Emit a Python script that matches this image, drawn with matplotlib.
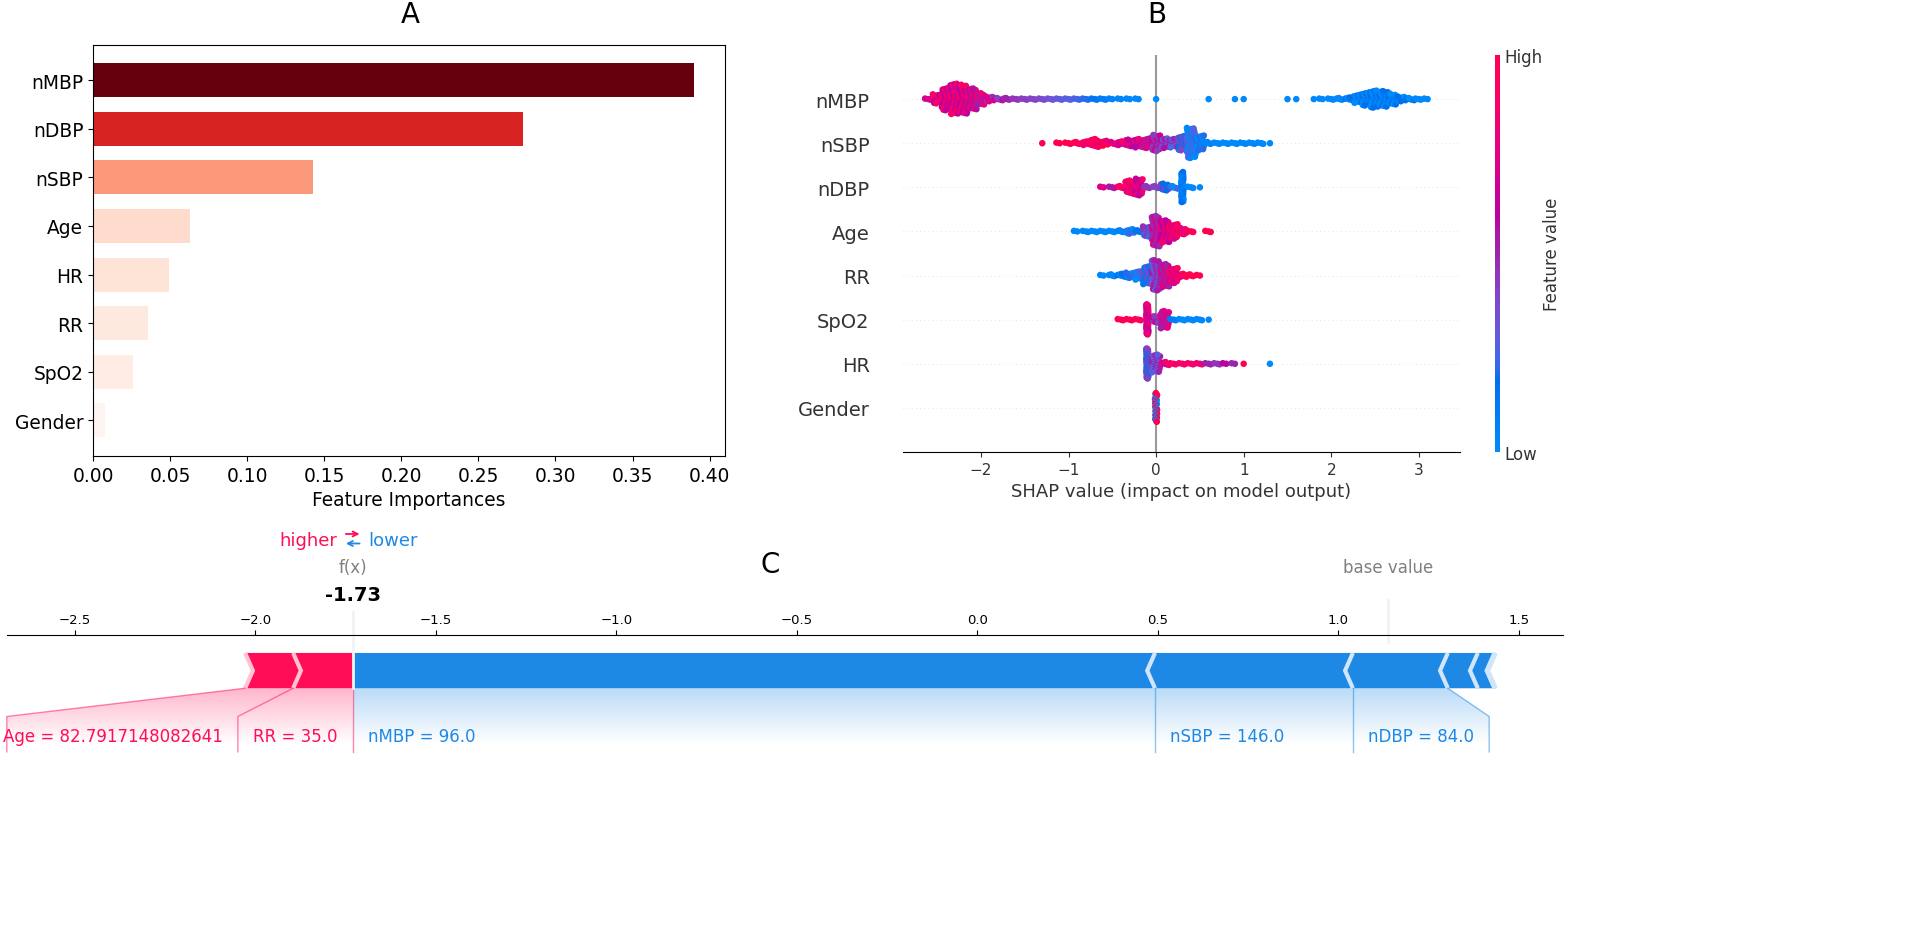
import numpy as np
import matplotlib
matplotlib.use('Agg')
import matplotlib.pyplot as plt
from matplotlib.colors import LinearSegmentedColormap, Normalize
from matplotlib.cm import ScalarMappable
from matplotlib.path import Path
from matplotlib.patches import PathPatch, Polygon
from matplotlib import lines

# ---------------- data: panel A ----------------
imp_features = ['nMBP', 'nDBP', 'nSBP', 'Age', 'HR', 'RR', 'SpO2', 'Gender']
imp_values = [0.390, 0.279, 0.143, 0.063, 0.049, 0.036, 0.026, 0.008]

# ---------------- data: panel B (binned SHAP histograms, bin width 0.1) ----------------
swarm_features = ['nMBP', 'nSBP', 'nDBP', 'Age', 'RR', 'SpO2', 'HR', 'Gender']
swarm_start = [-2.6, -1.3, -0.6, -0.9, -0.6, -0.4, -0.1, 0.0]

nMBP_counts = [3, 18, 43, 58, 55, 40, 23, 10, 5, 4, 3, 3, 3, 3, 3, 3, 3, 3, 3, 3, 3, 2, 2, 2, 2, 0, 1,
               0, 0, 0, 0, 0, 1, 0, 0, 1, 1, 0, 0, 0, 0, 1, 1, 0, 1, 2, 3, 4, 6, 16, 26, 33, 30, 21, 10, 5, 3, 2]
nMBP_colors = [.7, .75, .76, .76, .76, .72, .68, .6, .55, .5, .45, .42, .4, .37, .34, .3, .27, .24, .2, .15,
               .1, .06, .04, .03, .02, 0, .02, 0, 0, 0, 0, 0, .02, 0, 0, .02, .02, 0, 0, 0, 0, .02, .02, 0,
               .02, .02, .02, .02, .02, .02, .02, .02, .02, .02, .02, .02, .02, .02]
nSBP_counts = [1, 0, 2, 3, 4, 7, 14, 9, 5, 7, 12, 15, 17, 28, 17, 15, 26, 52, 26, 4, 3, 3, 3, 3, 3, 3, 1]
nSBP_colors = [1, 1, 1, 1, .97, .95, .93, .9, .85, .8, .75, .7, .65, .55, .45, .38, .28, .15, .08, .05,
               .02, .02, .02, .02, .02, .02, .02]
nDBP_counts = [2, 3, 4, 22, 28, 4, 4, 12, 5, 50, 3, 1]
nDBP_colors = [.75, .55, .9, .85, .75, .45, .4, .3, .12, .05, .03, .02]
Age_counts = [2, 3, 3, 3, 3, 4, 9, 4, 19, 56, 41, 27, 12, 3, 0, 3]
Age_colors = [.02, .02, .02, .02, .02, .05, .1, .15, .35, .6, .72, .85, .92, .97, 1, 1]
RR_counts = [2, 4, 6, 10, 15, 32, 54, 41, 27, 7, 4, 2]
RR_colors = [.02, .03, .05, .08, .12, .25, .42, .62, .82, .93, .98, 1]
SpO2_counts = [3, 3, 3, 54, 12, 31, 3, 3, 3, 3, 1]
SpO2_colors = [1, 1, .95, .72, .55, .65, .1, .02, .02, .02, .02]
HR_counts = [54, 32, 6, 3, 3, 3, 3, 3, 3, 2, 2, 1, 0, 0, 1]
HR_colors = [.3, .4, .75, .9, .9, .88, .85, .5, .45, .6, .5, 1, 0, 0, 0]
Gender_counts = [30]
Gender_colors = [0.5]

swarm_counts = [nMBP_counts, nSBP_counts, nDBP_counts, Age_counts, RR_counts, SpO2_counts, HR_counts, Gender_counts]
swarm_colors = [nMBP_colors, nSBP_colors, nDBP_colors, Age_colors, RR_colors, SpO2_colors, HR_colors, Gender_colors]
swarm_mix = [0.15, 0.12, 0.12, 0.12, 0.12, 0.12, 0.12, 0.5]
# bins where points are concentrated on (almost) a single SHAP value
swarm_tight = [[], [], [0.3], [], [], [-0.1], [-0.1], [0.0]]

# ---------------- data: panel C (force plot) ----------------
force_names = ['Age', 'RR', 'nMBP', 'nSBP', 'nDBP', 'HR', 'SpO2', 'Gender']
force_values = ['82.7917148082641', '35.0', '96.0', '146.0', '84.0', '', '', '']
force_shap = [0.133, 0.165, -2.222, -0.548, -0.263, -0.083, -0.046, -0.004]
base_value = 1.138
force_xlim = (-2.688, 1.622)

# ---------------- figure ----------------
W, H = 1928, 929
fig = plt.figure(figsize=(W / 100, H / 100), dpi=100)


def fbox(x0, y0, x1, y1):
    return [x0 / W, 1 - y1 / H, (x1 - x0) / W, (y1 - y0) / H]


# ================= Panel A =================
axA = fig.add_axes(fbox(93, 45.5, 725, 457))
vals = np.array(imp_values)
norm = (vals - vals.min()) / (vals.max() - vals.min())
colsA = plt.get_cmap('Reds')(norm)
axA.barh(np.arange(len(imp_features)), vals, height=0.7, color=colsA)
axA.set_yticks(np.arange(len(imp_features)))
axA.set_yticklabels(imp_features)
axA.invert_yaxis()
axA.set_xlim(0, 0.41)
axA.set_xticks(np.arange(0, 0.401, 0.05))
axA.set_xticklabels(['%.2f' % v for v in np.arange(0, 0.401, 0.05)])
axA.tick_params(labelsize=13.4)
axA.set_xlabel('Feature Importances', fontsize=13.4)

fig.text(410 / W, 1 - 15 / H, 'A', fontsize=20, ha='center', va='center')
fig.text(1157 / W, 1 - 15 / H, 'B', fontsize=20, ha='center', va='center')
fig.text(770 / W, 1 - 565 / H, 'C', fontsize=20, ha='center', va='center')

# ================= Panel B =================
# shap red_blue colormap (Lch interpolation)
def lch2rgb(l, c, h):
    a = c * np.cos(h)
    b = c * np.sin(h)
    fy = (l + 16) / 116.
    fx = fy + a / 500.
    fz = fy - b / 200.

    def finv(t):
        return t ** 3 if t > 6 / 29 else 3 * (6 / 29) ** 2 * (t - 4 / 29)
    X = 0.95047 * finv(fx)
    Y = finv(fy)
    Z = 1.08883 * finv(fz)
    r = 3.2404542 * X - 1.5371385 * Y - 0.4985314 * Z
    g = -0.9692660 * X + 1.8760108 * Y + 0.0415560 * Z
    bl = 0.0556434 * X - 0.2040259 * Y + 1.0572252 * Z
    out = []
    for v in (r, g, bl):
        v = 1.055 * v ** (1 / 2.4) - 0.055 if v > 0.0031308 else 12.92 * v
        out.append(min(max(v, 0.0), 1.0))
    return out


nsteps = 100
l_vals = list(np.linspace(54., 40., nsteps // 2)) + list(np.linspace(40., 54., nsteps // 2))
c_vals = np.linspace(70., 90., nsteps)
h_vals = np.linspace(4.6588, 0.35470565 + 2 * np.pi, nsteps)
rb_colors = [lch2rgb(l, c, h) for l, c, h in zip(l_vals, c_vals, h_vals)]
red_blue = LinearSegmentedColormap.from_list('red_blue', rb_colors)

axB = fig.add_axes(fbox(903, 56, 1460, 453))
nrow = len(swarm_features)
golden = 0.6180339887
for r in range(nrow):
    ypos = nrow - 1 - r
    axB.axhline(y=ypos, color='#cccccc', lw=0.5, dashes=(1, 5), zorder=-1)
    xs, ys, cs = [], [], []
    for i, (n, cv) in enumerate(zip(swarm_counts[r], swarm_colors[r])):
        center = swarm_start[r] + 0.1 * i
        spread = 0.1
        for tb in swarm_tight[r]:
            if abs(center - tb) < 1e-6:
                spread = 0.025
        m = swarm_mix[r] if n >= 5 else 0.0
        for k in range(n):
            xs.append(center + (((k * golden) + 0.5) % 1.0 - 0.5) * spread)
            ys.append(np.ceil(k / 2) * ((k % 2) * 2 - 1))
            cs.append(float(np.clip(cv + m * (1 if (k // 2) % 2 == 0 else -1), 0, 1)))
    ys = np.array(ys, dtype=float)
    ys *= 0.9 * (0.4 / (ys.max() + 1))
    axB.scatter(xs, ypos + ys, c=cs, cmap=red_blue, vmin=0, vmax=1, s=22,
                linewidth=0, zorder=3, rasterized=True)
axB.axvline(x=0, color='#999999', zorder=-1)
axB.set_xlim(-2.89, 3.47)
axB.set_ylim(-1, nrow)
axB.set_yticks(np.arange(nrow))
axB.set_yticklabels(swarm_features[::-1])
for s in ['left', 'right', 'top']:
    axB.spines[s].set_visible(False)
axB.tick_params(axis='y', length=0, pad=24, labelsize=14, labelcolor='#333333')
axB.tick_params(axis='x', labelsize=11, color='#333333', labelcolor='#333333')
axB.set_xticks([-2, -1, 0, 1, 2, 3])
axB.set_xlabel('SHAP value (impact on model output)', fontsize=13, color='#333333')

cax = fig.add_axes(fbox(1495, 56, 1500, 453))
sm = ScalarMappable(norm=Normalize(0, 1), cmap=red_blue)
cb = fig.colorbar(sm, cax=cax, ticks=[0, 1])
cb.set_ticklabels(['Low', 'High'])
cb.ax.tick_params(labelsize=12, length=0, labelcolor='#333333')
cb.set_label('Feature value', size=12, labelpad=0, color='#333333')
cb.outline.set_visible(False)

# ================= Panel C (force plot) =================
axC = fig.add_axes(fbox(6.8, 636.3, 1563, 865.8))
axC.set_ylim(-0.5, 0.15)
axC.set_xlim(*force_xlim)
axC.tick_params(top=True, bottom=False, left=False, right=False, labelleft=False,
                labeltop=True, labelbottom=False, labelsize=9.5)
axC.set_xticks(np.arange(-2.5, 1.51, 0.5))
for k, s in axC.spines.items():
    if k != 'top':
        s.set_visible(False)

out_value = base_value + sum(force_shap)
pos = sorted([(v, n, t) for v, n, t in zip(force_shap, force_names, force_values) if v > 0], key=lambda z: -abs(z[0]))
neg = sorted([(v, n, t) for v, n, t in zip(force_shap, force_names, force_values) if v < 0], key=lambda z: -abs(z[0]))
total_effect = sum(abs(v) for v in force_shap)
width_bar = 0.1
width_sep = (force_xlim[1] - force_xlim[0]) / 200.
offset_text = 0.042
min_perc = 0.03


def draw_bars(feats, ftype):
    pre = out_value
    for idx, (eff, name, txt) in enumerate(feats):
        if ftype == 'positive':
            left = pre - abs(eff)
            right = pre
            pre = left
            indent = abs(width_sep)
            colors = ['#FF0D57', '#FFC3D5']
        else:
            left = pre
            right = pre + abs(eff)
            pre = right
            indent = -abs(width_sep)
            colors = ['#1E88E5', '#D1E6FA']
        if idx == 0:
            if ftype == 'positive':
                pts = [[left, 0], [right, 0], [right, width_bar], [left, width_bar],
                       [left + indent, width_bar / 2]]
            else:
                pts = [[right, 0], [left, 0], [left, width_bar], [right, width_bar],
                       [right + indent, width_bar / 2]]
        else:
            pts = [[left, 0], [right, 0], [right + indent * 0.9, width_bar / 2], [right, width_bar],
                   [left, width_bar], [left + indent * 0.9, width_bar / 2]]
        axC.add_patch(Polygon(pts, closed=True, fill=True, facecolor=colors[0], linewidth=0))


def draw_separators(feats, ftype):
    pre = out_value
    for idx, (eff, name, txt) in enumerate(feats):
        if ftype == 'positive':
            sep_pos = pre - abs(eff)
            pre = sep_pos
            indent = abs(width_sep)
            col = '#FFC3D5'
        else:
            sep_pos = pre + abs(eff)
            pre = sep_pos
            indent = -abs(width_sep)
            col = '#D1E6FA'
        pts = [[sep_pos, 0], [sep_pos + indent, width_bar / 2], [sep_pos, width_bar]]
        axC.add_patch(Polygon(pts, closed=False, fill=False, edgecolor=col, lw=3))


draw_bars(neg, 'negative')
draw_bars(pos, 'positive')
draw_separators(neg, 'negative')
draw_separators(pos, 'positive')

fig.canvas.draw()
renderer = fig.canvas.get_renderer()


def draw_labels(feats, ftype):
    start_text = out_value
    pre_val = out_value
    if ftype == 'positive':
        colors = ['#FF0D57', '#FFC3D5']
        align = 'right'
        sign = 1
    else:
        colors = ['#1E88E5', '#D1E6FA']
        align = 'left'
        sign = -1
    if ftype == 'positive':
        ln = lines.Line2D([pre_val, pre_val], [0, -0.18], lw=1., alpha=0.5, color=colors[0])
        ln.set_clip_on(False)
        axC.add_line(ln)
    box_end = out_value
    for eff, name, txt in feats:
        val = pre_val - sign * abs(eff)
        contrib = abs(eff) / total_effect
        if contrib < min_perc:
            break
        text = name + ' = ' + txt if txt != '' else name
        t = axC.text(start_text - sign * offset_text, -0.15, text, fontsize=12, color=colors[0],
                     ha=align, va='baseline')
        bb = t.get_window_extent(renderer=renderer).transformed(axC.transData.inverted())
        box_end_ = bb.x0 if ftype == 'positive' else bb.x1
        if box_end_ > force_xlim[1]:
            t.remove()
            break
        if sign * box_end_ > sign * val:
            ln = lines.Line2D([val, val], [0, -0.18], lw=1., alpha=0.5, color=colors[0])
            ln.set_clip_on(False)
            axC.add_line(ln)
            start_text = val
            box_end = val
        else:
            box_end = box_end_ - sign * offset_text
            box_end = min(max(box_end, force_xlim[0]), force_xlim[1])
            ln = lines.Line2D([val, box_end, box_end], [0, -0.08, -0.18], lw=1., alpha=0.5, color=colors[0])
            ln.set_clip_on(False)
            axC.add_line(ln)
            start_text = box_end
        pre_val = val
    path = Path([[out_value, 0], [pre_val, 0], [box_end, -0.08], [box_end, -0.2],
                 [out_value, -0.2], [out_value, 0]])
    patch = PathPatch(path, facecolor='none', edgecolor='none')
    axC.add_patch(patch)
    if ftype == 'positive':
        cl = np.array([(255, 13, 87), (255, 255, 255)]) / 255.
    else:
        cl = np.array([(30, 136, 229), (255, 255, 255)]) / 255.
    cm = LinearSegmentedColormap.from_list('cm', cl)
    _, Z2 = np.meshgrid(np.linspace(0, 10), np.linspace(-10, 10))
    im = axC.imshow(Z2, interpolation='quadric', cmap=cm, vmax=0.01, alpha=0.3, origin='lower',
                    extent=[out_value, box_end, 0, -0.31], clip_path=patch, clip_on=True, aspect='auto')
    im.set_clip_path(patch)


draw_labels(neg, 'negative')
draw_labels(pos, 'positive')
axC.set_xlim(*force_xlim)
axC.set_ylim(-0.5, 0.15)

# higher / lower legend (two coloured arrows between the words)
axC.text(out_value - offset_text, 0.405, 'higher', fontsize=13, color='#FF0D57', ha='right')
axC.text(out_value + offset_text, 0.405, 'lower', fontsize=13, color='#1E88E5', ha='left')
arr_half = 0.019
a1 = axC.annotate('', xy=(out_value + arr_half, 0.437), xytext=(out_value - arr_half, 0.437),
                  xycoords='data', textcoords='data', annotation_clip=False,
                  arrowprops=dict(arrowstyle='->', color='#FF0D57', lw=1.3, mutation_scale=9,
                                  shrinkA=0, shrinkB=0))
a2 = axC.annotate('', xy=(out_value - arr_half, 0.410), xytext=(out_value + arr_half, 0.410),
                  xycoords='data', textcoords='data', annotation_clip=False,
                  arrowprops=dict(arrowstyle='->', color='#1E88E5', lw=1.3, mutation_scale=9,
                                  shrinkA=0, shrinkB=0))

# base value
ln = lines.Line2D([base_value, base_value], [0.13, 0.25], lw=2., color='#F2F2F2')
ln.set_clip_on(False)
axC.add_line(ln)
tb = axC.text(base_value, 0.33, 'base value', fontsize=12, alpha=0.5, ha='center')
tb.set_bbox(dict(facecolor='white', edgecolor='white'))

# output value
ln = lines.Line2D([out_value, out_value], [0, 0.24], lw=2., color='#F2F2F2')
ln.set_clip_on(False)
axC.add_line(ln)
to = axC.text(out_value, 0.25, '{0:.2f}'.format(out_value), fontsize=14, fontweight='bold', ha='center')
to.set_bbox(dict(facecolor='white', edgecolor='white'))
axC.text(out_value, 0.33, 'f(x)', fontsize=12, alpha=0.5, ha='center')

fig.savefig('out.png', dpi=100)
